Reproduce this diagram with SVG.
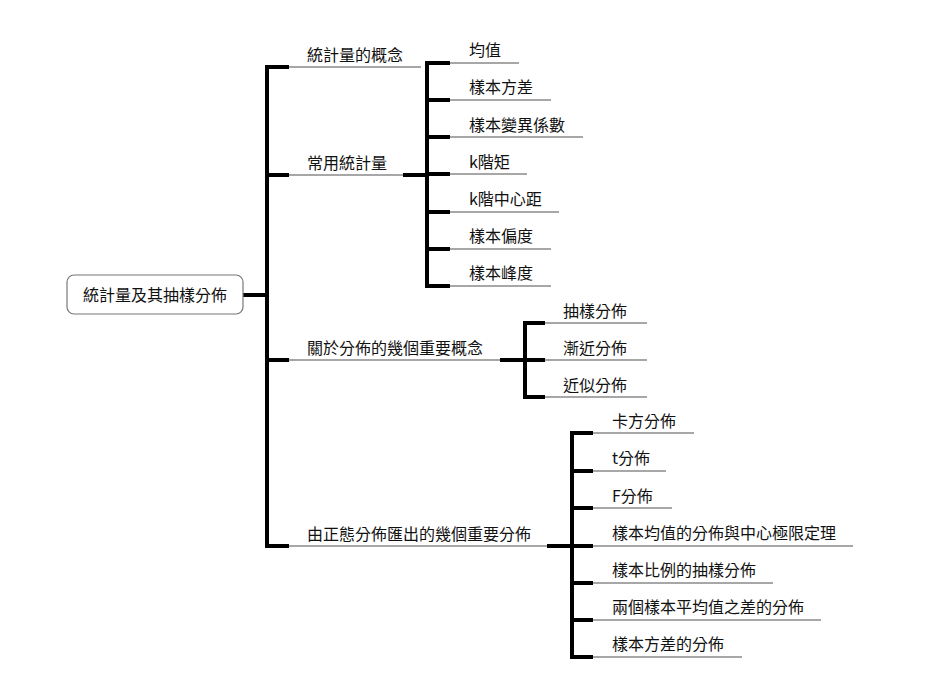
<svg xmlns="http://www.w3.org/2000/svg" width="938" height="700" viewBox="0 0 938 700">
<style>
text{font-family:"Noto Sans CJK TC","Noto Sans CJK SC",sans-serif;font-size:16px;fill:#111}
.thin{stroke:#8a8a8a;stroke-width:1.5;fill:none}
.thick{stroke:#000;stroke-width:4;fill:none}
</style>
<rect width="938" height="700" fill="#fff"/>
<g id="connectors">
<path class="thick" d="M243 295H267M267 65V548"/>
<path class="thick" d="M265 67H289M265 175H289M265 360H289M265 546H289"/>
<path class="thin" d="M289 67H421M289 175H403M289 360H500M289 546H547"/>
<path class="thick" d="M403 175H427M427 61V288M425 63H450M425 100H450M425 137H450M425 174H450M425 212H450M425 249H450M425 286H450"/>
<path class="thin" d="M450 63H519M450 100H551M450 137H583M450 174H527M450 212H559M450 249H551M450 286H551"/>
<path class="thick" d="M500 360H525M525 321V399M523 323H545M523 397H545M523 360H545"/>
<path class="thin" d="M545 323H647M545 360H647M545 397H647"/>
<path class="thick" d="M547 546H572M572 431V659M570 433H593M570 471H593M570 508H593M570 546H593M570 583H593M570 620H593M570 657H593"/>
<path class="thin" d="M593 433H694M593 471H666M593 508H672M593 546H853M593 583H773M593 620H821M593 657H742"/>
</g>
<g id="root">
<rect x="67" y="275" width="176" height="39" rx="7" fill="#fff" stroke="#777" stroke-width="1.2"/>
<text x="155" y="301" text-anchor="middle">統計量及其抽樣分佈</text>
</g>
<g id="n1"><text x="307" y="61">統計量的概念</text></g>
<g id="n2"><text x="307" y="169">常用統計量</text></g>
<g id="n3"><text x="307" y="354">關於分佈的幾個重要概念</text></g>
<g id="n4"><text x="307" y="540">由正態分佈匯出的幾個重要分佈</text></g>
<g id="n2a"><text x="469" y="56">均值</text></g>
<g id="n2b"><text x="469" y="93">樣本方差</text></g>
<g id="n2c"><text x="469" y="131">樣本變異係數</text></g>
<g id="n2d"><text x="469" y="168">k階矩</text></g>
<g id="n2e"><text x="469" y="205">k階中心距</text></g>
<g id="n2f"><text x="469" y="242">樣本偏度</text></g>
<g id="n2g"><text x="469" y="279">樣本峰度</text></g>
<g id="n3a"><text x="563" y="317">抽樣分佈</text></g>
<g id="n3b"><text x="563" y="354">漸近分佈</text></g>
<g id="n3c"><text x="563" y="391">近似分佈</text></g>
<g id="n4a"><text x="612" y="427">卡方分佈</text></g>
<g id="n4b"><text x="612" y="464">t分佈</text></g>
<g id="n4c"><text x="612" y="502">F分佈</text></g>
<g id="n4d"><text x="612" y="539">樣本均值的分佈與中心極限定理</text></g>
<g id="n4e"><text x="612" y="576">樣本比例的抽樣分佈</text></g>
<g id="n4f"><text x="612" y="613">兩個樣本平均值之差的分佈</text></g>
<g id="n4g"><text x="612" y="650">樣本方差的分佈</text></g>
</svg>
